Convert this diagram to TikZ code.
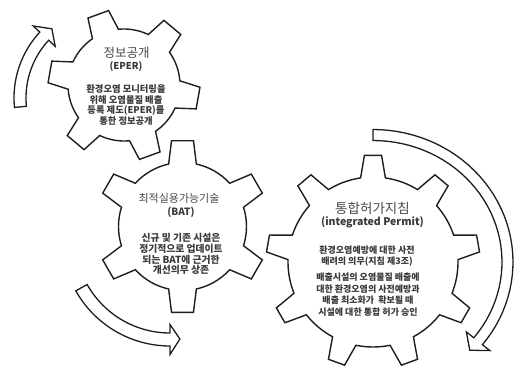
\documentclass[tikz,border=0pt]{standalone}
\usepackage{fontspec}
\newfontfamily\kr{Noto Sans CJK KR}
\definecolor{ink}{HTML}{1E1E1E}
\definecolor{txt}{HTML}{3A3A3A}
\definecolor{ttl}{HTML}{4A4A4A}
\tikzset{
  gearline/.style={draw=ink, line width=1.4pt, fill=white, line join=miter},
  arrowline/.style={draw=ink, line width=1.3pt, fill=white, line join=miter},
  ttlA/.style={font={\kr\fontsize{12.5}{14}\selectfont}, text=ttl, inner sep=0pt},
  ttlB/.style={font={\kr\fontsize{11}{13}\selectfont}, text=ttl, inner sep=0pt},
  ttlC/.style={font={\kr\fontsize{13.5}{15}\selectfont}, text=ttl, inner sep=0pt},
  subtxt/.style={font={\kr\bfseries\fontsize{#1}{12}\selectfont}, text=txt, inner sep=0pt},
  bodytxt/.style 2 args={font={\kr\bfseries\fontsize{#1}{#2}\selectfont}, text=txt, align=center, inner sep=0pt}
}
% cx cy R rin n offset ht hb
\newcommand{\drawgear}[8]{%
 \draw[gearline] ({#1+#4*cos(#6-#8)},{#2+#4*sin(#6-#8)})
 \foreach \k in {1,...,#5}{
   -- ({#1+#3*cos(#6+(\k-1)*360/#5-#7)},{#2+#3*sin(#6+(\k-1)*360/#5-#7)})
   -- ({#1+#3*cos(#6+(\k-1)*360/#5+#7)},{#2+#3*sin(#6+(\k-1)*360/#5+#7)})
   -- ({#1+#4*cos(#6+(\k-1)*360/#5+#8)},{#2+#4*sin(#6+(\k-1)*360/#5+#8)})
   \foreach \j in {1,...,8}{
     -- ({#1+#4*cos(#6+(\k-1)*360/#5+#8+\j*(360/#5-2*#8)/8)},{#2+#4*sin(#6+(\k-1)*360/#5+#8+\j*(360/#5-2*#8)/8)})
   }
 } -- cycle;}
% cx cy rx ry t1 t2 tip w h
\newcommand{\circarrow}[9]{%
 \draw[arrowline] plot[domain=#5:#6, samples=40] ({#1+(#3+#8)*cos(\x)},{#2+(#4+#8)*sin(\x)})
  -- ({#1+(#3+#9)*cos(#6)},{#2+(#4+#9)*sin(#6)})
  -- ({#1+#3*cos(#7)},{#2+#4*sin(#7)})
  -- ({#1+(#3-#9)*cos(#6)},{#2+(#4-#9)*sin(#6)})
  -- plot[domain=#6:#5, samples=40] ({#1+(#3-#8)*cos(\x)},{#2+(#4-#8)*sin(\x)})
  -- cycle;}
\begin{document}
\begin{tikzpicture}[x=1pt, y=-1pt]
\useasboundingbox (0,0) rectangle (517,365);
% circular arrows
\circarrow{111}{98}{91}{91}{174.4}{222.8}{229.5}{6}{15}
\circarrow{170}{238}{101.5}{101.5}{150.7}{90}{84.4}{6.5}{15}
\circarrow{373}{262}{134.5}{127}{-90}{38.6}{44}{5.5}{15}
% gears
\drawgear{124}{85}{76}{56}{6}{-110}{8.3}{14.3}
\drawgear{182.5}{226.5}{86.5}{64}{6}{-90}{7.3}{12.5}
\drawgear{373}{262}{107}{85}{9}{-90}{4.6}{8.4}
% gear 1 text
\node[ttlA] (t1) at (126.5,53) {정보공개};
\node[subtxt=9.5] (s1) at (126,66) {(EPER)};
\node[bodytxt={9.3}{10.4}] (b1) at (126,105) {환경오염 모니터링을\\위해 오염물질 배출\\등록 제도(EPER)를\\통한 정보공개};
% gear 2 text
\node[ttlB] (t2) at (179,198) {최적실용가능기술};
\node[subtxt=10] (s2) at (181,212) {(BAT)};
\node[bodytxt={9.8}{10.7}] (b2) at (181,254) {신규 및 기존 시설은\\정기적으로 업데이트\\되는 BAT에 근거한\\개선의무 상존};
% gear 3 text
\node[ttlC] (t3) at (372.5,208) {통합허가지침};
\node[subtxt=10.5] (s3) at (372.5,222) {(integrated Permit)};
\node[bodytxt={9}{11.7}] (b3a) at (367,256) {환경오염예방에 대한 사전\\배려의 의무(지침 제3조)};
\node[bodytxt={9}{11.7}] (b3b) at (368,294.5) {배출시설의 오염물질 배출에\\대한 환경오염의 사전예방과\\배출 최소화가~ 확보될 때\\시설에 대한 통합 허가 승인};
\end{tikzpicture}
\end{document}
